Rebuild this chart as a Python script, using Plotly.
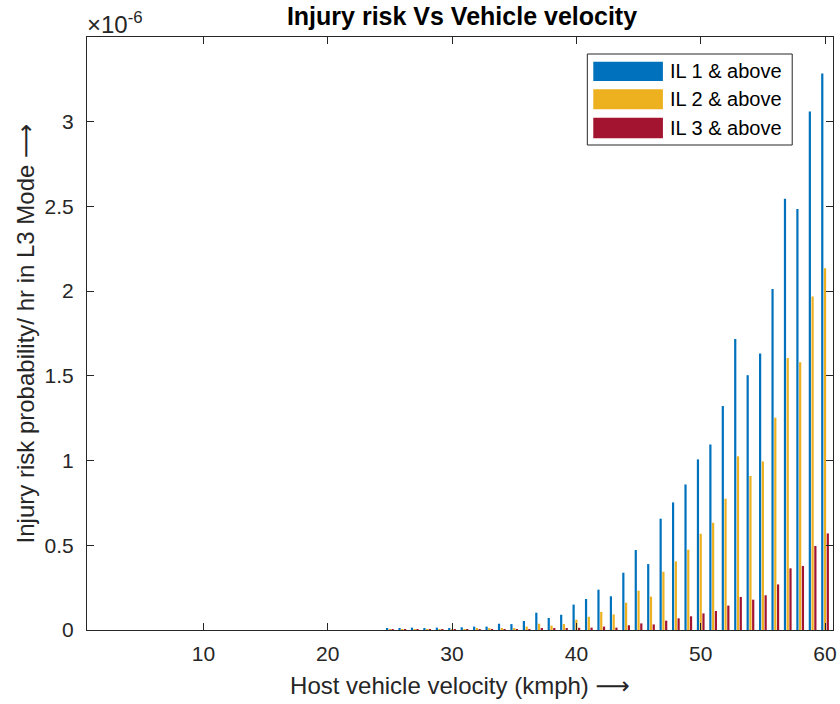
import plotly.graph_objects as go

# Data (injury risk probability per hour, in units of 1e-6)
velocity_kmph = list(range(25, 61))
il1_above = [0.008, 0.010, 0.014, 0.010, 0.014, 0.010, 0.016, 0.020, 0.020, 0.037,
             0.035, 0.053, 0.102, 0.071, 0.090, 0.150, 0.183, 0.238, 0.199, 0.338,
             0.472, 0.389, 0.657, 0.753, 0.859, 1.007, 1.095, 1.322, 1.717, 1.504,
             1.632, 2.013, 2.546, 2.485, 3.061, 3.285]
il2_above = [0.002, 0.003, 0.004, 0.003, 0.004, 0.003, 0.005, 0.008, 0.006, 0.012,
             0.012, 0.020, 0.037, 0.026, 0.035, 0.061, 0.078, 0.107, 0.092, 0.161,
             0.232, 0.197, 0.344, 0.405, 0.474, 0.568, 0.633, 0.775, 1.025, 0.909,
             0.995, 1.253, 1.605, 1.581, 1.968, 2.135]
il3_above = [0.0003, 0.0004, 0.0005, 0.0004, 0.0005, 0.0004, 0.0007, 0.001, 0.001, 0.002,
             0.002, 0.004, 0.008, 0.006, 0.007, 0.013, 0.014, 0.020, 0.014, 0.028,
             0.039, 0.033, 0.055, 0.069, 0.081, 0.098, 0.112, 0.144, 0.195, 0.179,
             0.205, 0.269, 0.364, 0.378, 0.496, 0.570]
series_names = ["IL 1 & above", "IL 2 & above", "IL 3 & above"]
series_colors = ["#0072BD", "#EDB120", "#A2142F"]
x_ticks = [10, 20, 30, 40, 50, 60]
y_ticks = [0, 0.5, 1, 1.5, 2, 2.5, 3]
y_tick_labels = ["0", "0.5", "1", "1.5", "2", "2.5", "3"]

W, H = 840, 704
L, R, T, B = 87, 837, 37, 630  # plot area in pixels
FONT = "Liberation Sans, Arial, Helvetica, sans-serif"
AX = "#262626"
ARROW = "<span style='font-family:DejaVu Sans'>⟶</span>"

fig = go.Figure()
for name, vals, col in zip(series_names, [il1_above, il2_above, il3_above], series_colors):
    fig.add_trace(go.Bar(x=velocity_kmph, y=vals, name=name, marker_color=col,
                         marker_line_width=0, showlegend=False))

def px(x):
    return (x - L) / (R - L)

def py(y):
    return (B - y) / (B - T)

shapes = []
annotations = []
# legend box
shapes.append(dict(type="rect", xref="paper", yref="paper", x0=px(590), x1=px(796),
                   y0=py(145), y1=py(54), line=dict(color=AX, width=1), fillcolor="white",
                   layer="above"))
rows = [(61.7, 81.0), (89.3, 109.3), (117.7, 138.3)]
for (y0, y1), name, col in zip(rows, series_names, series_colors):
    shapes.append(dict(type="rect", xref="paper", yref="paper", x0=px(596), x1=px(666),
                       y0=py(y1), y1=py(y0), line=dict(width=0), fillcolor=col, layer="above"))
    annotations.append(dict(text=name, xref="paper", yref="paper", x=px(671), y=py((y0 + y1) / 2),
                            xanchor="left", yanchor="middle", showarrow=False,
                            font=dict(family=FONT, size=20, color="black")))

annotations.append(dict(text="×10<sup>-6</sup>", xref="paper", yref="paper", x=px(85), y=py(37),
                        xanchor="left", yanchor="bottom", showarrow=False, yshift=-3,
                        font=dict(family=FONT, size=24, color=AX)))

fig.update_layout(
    width=W, height=H,
    margin=dict(l=L, r=W - R, t=T, b=H - B, pad=0),
    paper_bgcolor="white", plot_bgcolor="white",
    barmode="group", bargap=0.333, bargroupgap=0.2,
    title=dict(text="<b>Injury risk Vs Vehicle velocity</b>", x=(L + R) / 2 / W, xanchor="center",
               y=1 - 16 / H, yanchor="middle", font=dict(family=FONT, size=25, color="black")),
    font=dict(family=FONT, color=AX),
    shapes=shapes, annotations=annotations,
)
fig.update_xaxes(range=[0.64, 60.64], tickvals=x_ticks, ticks="inside", ticklen=7,
                 tickcolor=AX, showline=True, linecolor=AX, linewidth=1, mirror="ticks",
                 showgrid=False, zeroline=False, tickfont=dict(size=21, color=AX),
                 ticklabeloverflow="allow", ticklabelstandoff=5,
                 title=dict(text="Host vehicle velocity (kmph) " + ARROW, standoff=12,
                            font=dict(size=24, color=AX)))
fig.update_yaxes(range=[0, 3.5], tickvals=y_ticks, ticktext=y_tick_labels, ticks="inside",
                 ticklen=7, tickcolor=AX, showline=True, linecolor=AX, linewidth=1, mirror="ticks",
                 showgrid=False, zeroline=False, tickfont=dict(size=21, color=AX),
                 ticklabelstandoff=8,
                 title=dict(text="Injury risk probability/ hr in L3 Mode " + ARROW, standoff=3,
                            font=dict(size=24, color=AX)))

fig.write_html("out.html")
